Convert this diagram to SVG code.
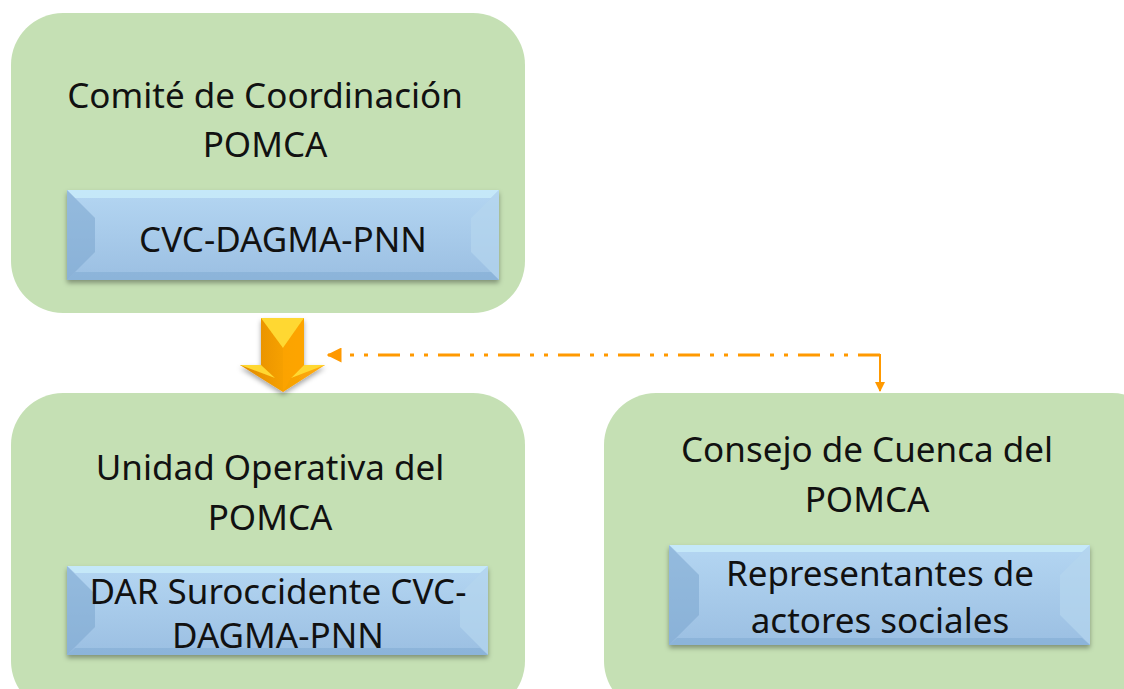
<svg xmlns="http://www.w3.org/2000/svg" width="1124" height="689" viewBox="0 0 1124 689">
<defs>
<style>
.grn{fill:#C5E0B4}
.t{font-family:"Noto Sans","Open Sans",sans-serif;font-size:35px;fill:#111;text-anchor:middle}
.bf{fill:url(#bg)}
.bt{fill:#C9ECFA;opacity:0.8}
.bl{fill:#7FA8D0;opacity:0.6}
.br{fill:#B5D5EE;opacity:0.7}
.bb{fill:#86AFD6;opacity:0.7}
.conn{fill:none;stroke:#FF9900;stroke-width:3;stroke-dasharray:22 10 4 10 4 10}
</style>
<linearGradient id="bg" x1="0" y1="0" x2="0" y2="1">
<stop offset="0" stop-color="#B4D6F2"/>
<stop offset="1" stop-color="#9BBFE2"/>
</linearGradient>
<linearGradient id="og" x1="0" y1="0" x2="1" y2="0">
<stop offset="0" stop-color="#E08A00"/>
<stop offset="0.5" stop-color="#F6A000"/>
<stop offset="1" stop-color="#FFAA10"/>
</linearGradient>
<filter id="sh" x="-10%" y="-10%" width="120%" height="130%">
<feDropShadow dx="0" dy="3" stdDeviation="2.5" flood-color="#000" flood-opacity="0.35"/>
</filter>
<marker id="ah" viewBox="0 0 10 10" refX="9" refY="5" markerWidth="5" markerHeight="5" orient="auto-start-reverse" markerUnits="strokeWidth">
<path d="M0,0 L10,5 L0,10 z" fill="#FF9900"/>
</marker>
</defs>
<rect width="1124" height="689" fill="#fff"/>

<g id="comite">
<rect class="grn" x="11" y="13" width="514" height="300" rx="52"/>
<text class="t" x="265" y="108">Comité de Coordinación</text>
<text class="t" x="265" y="157">POMCA</text>
</g>
<g id="cvc">
<g filter="url(#sh)">
<rect class="bf" x="67" y="190" width="432" height="90"/>
</g>
<polygon class="bt" points="67,190 499,190 491,198 75,198"/>
<polygon class="bl" points="67,190 95,218 95,252 67,280"/>
<polygon class="br" points="499,190 471,218 471,252 499,280"/>
<polygon class="bb" points="67,280 75,272 491,272 499,280"/>
<text class="t" x="283" y="252">CVC-DAGMA-PNN</text>
</g>

<g id="unidad">
<rect class="grn" x="11" y="393" width="514" height="320" rx="52"/>
<text class="t" x="270" y="480">Unidad Operativa del</text>
<text class="t" x="270" y="530">POMCA</text>
</g>
<g id="dar">
<g filter="url(#sh)">
<rect class="bf" x="67" y="566" width="421" height="89"/>
</g>
<polygon class="bt" points="67,566 488,566 480,573 75,573"/>
<polygon class="bl" points="67,566 95,594 95,627 67,655"/>
<polygon class="br" points="488,566 460,594 460,627 488,655"/>
<polygon class="bb" points="67,655 75,648 480,648 488,655"/>
<text class="t" x="278" y="604">DAR Suroccidente CVC-</text>
<text class="t" x="278" y="648">DAGMA-PNN</text>
</g>

<g id="consejo">
<rect class="grn" x="604" y="393" width="560" height="320" rx="52"/>
<text class="t" x="867" y="462">Consejo de Cuenca del</text>
<text class="t" x="867" y="512">POMCA</text>
</g>
<g id="representantes">
<g filter="url(#sh)">
<rect class="bf" x="669" y="545" width="421" height="100"/>
</g>
<polygon class="bt" points="669,545 1090,545 1082,552 677,552"/>
<polygon class="bl" points="669,545 699,575 699,615 669,645"/>
<polygon class="br" points="1090,545 1060,575 1060,615 1090,645"/>
<polygon class="bb" points="669,645 677,638 1082,638 1090,645"/>
<text class="t" x="880" y="586">Representantes de</text>
<text class="t" x="880" y="633">actores sociales</text>
</g>

<g id="arrow" filter="url(#sh)">
<polygon points="261,318 304,318 304,365 325,365 283,392 240,365 261,365" fill="url(#og)"/>
<polygon points="261,318 304,318 283,348" fill="#FFD830"/>
<polygon points="240,365 261,365 275,378" fill="#FFD830"/>
<polygon points="304,365 325,365 291,378" fill="#FFD830"/>
<polygon points="283,348 304,318 304,365 291,378 283,392" fill="#FFA500" opacity="0.6"/>
</g>

<g id="connectors">
<path class="conn" d="M880,355 L328,355" marker-end="url(#ah)"/>
<path d="M878,355 L880,355 L880,391" fill="none" stroke="#FF9900" stroke-width="2" marker-end="url(#ah)"/>
</g>
</svg>
